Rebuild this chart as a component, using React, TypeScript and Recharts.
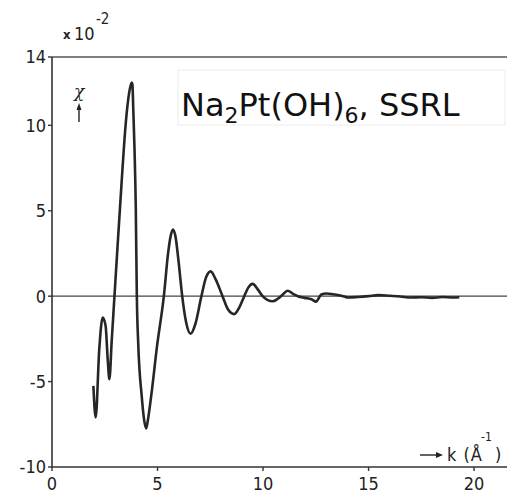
import { LineChart, Line, XAxis, YAxis, ReferenceLine } from 'recharts';

// k in 1/Å, chi in units of 10^-2
const kValues = [
  1.96, 2.07, 2.24, 2.4, 2.54, 2.64, 2.72, 2.83, 2.96, 3.07, 3.29, 3.48, 3.59, 3.7, 3.78, 3.81, 3.85,
  3.91, 3.97, 4.02, 4.09, 4.25, 4.36, 4.46, 4.55, 4.7, 4.98, 5.3, 5.5, 5.62, 5.73, 5.85, 6.0, 6.17,
  6.35, 6.57, 6.8, 7.08, 7.3, 7.52, 7.75, 8.08, 8.35, 8.63, 8.9, 9.11, 9.3, 9.51, 9.75, 9.98, 10.2,
  10.46, 10.7, 10.9, 11.17, 11.4, 11.65, 11.97, 12.29, 12.52, 12.6, 12.76, 13.0, 13.4, 13.8, 14.03,
  14.5, 15.0, 15.46, 16.0, 16.5, 17.0, 17.5, 18.0, 18.5, 19.0, 19.3,
];
const chiValues = [
  -5.25, -7.1, -3.1, -1.25, -1.74, -3.7, -4.86, -2.6, 0, 2.2, 6.5, 9.9, 11.3, 12.2, 12.5, 12.4,
  11.0, 8.6, 5.2, 0, -2.9, -5.84, -7.2, -7.75, -7.2, -5.84, -2.9, 0, 2.5, 3.5, 3.9, 3.5, 2.0, 0, -1.5,
  -2.2, -1.6, 0, 1.1, 1.45, 1.0, 0, -0.8, -1.05, -0.6, 0, 0.5, 0.72, 0.4, 0, -0.22, -0.3, -0.15, 0.05,
  0.32, 0.15, 0, -0.1, -0.18, -0.33, -0.2, 0.1, 0.16, 0.1, 0, -0.08, -0.05, 0, 0.06, 0.02, -0.02,
  -0.08, -0.06, -0.1, -0.05, -0.08, -0.06,
];
const xTicks = [0, 5, 10, 15, 20];
const yTicks = [-10, -5, 0, 5, 10, 14];

const data = kValues.map((k, i) => ({ k, chi: chiValues[i] }));

const tickFont = {
  fontFamily: '"Liberation Sans Narrow", "DejaVu Sans Condensed", sans-serif',
  fontSize: 18,
  fill: '#222',
};

export default function App() {
  return (
    <div style={{ position: 'absolute', left: 0, top: 0, width: 507, height: 497, background: '#fff', overflow: 'hidden' }}>
      <LineChart width={507} height={497} data={data} margin={{ top: 57, right: 0, bottom: 0, left: 0 }}>
        <XAxis
          dataKey="k"
          type="number"
          domain={[0, 21.56]}
          ticks={xTicks}
          allowDataOverflow
          height={30}
          tickSize={4}
          tickMargin={6}
          tick={tickFont}
          axisLine={{ stroke: '#333', strokeWidth: 1.6 }}
          tickLine={{ stroke: '#333', strokeWidth: 1.4 }}
        />
        <YAxis
          type="number"
          domain={[-10, 14]}
          ticks={yTicks}
          interval={0}
          width={52}
          tickSize={4}
          tickMargin={2}
          tick={tickFont}
          axisLine={{ stroke: '#333', strokeWidth: 1.6 }}
          tickLine={{ stroke: '#333', strokeWidth: 1.4 }}
        />
        <ReferenceLine y={14} stroke="#555" strokeWidth={1.5} />
        <ReferenceLine y={0} stroke="#444" strokeWidth={1.2} />
        <Line
          type="monotone"
          dataKey="chi"
          stroke="#262626"
          strokeWidth={2.6}
          dot={false}
          isAnimationActive={false}
        />
      </LineChart>
      <svg width={507} height={497} style={{ position: 'absolute', left: 0, top: 0, pointerEvents: 'none' }}>
        <g fontFamily='"Liberation Sans Narrow", "DejaVu Sans Condensed", sans-serif' fill="#222">
          <text x={63} y={39} fontSize={13} fontWeight="bold">x</text>
          <text x={74} y={40} fontSize={18}>10</text>
          <text x={96} y={24} fontSize={15}>-2</text>
          <text x={74} y={97} fontSize={17} fontStyle="italic" fontFamily="DejaVu Serif">χ</text>
          <line x1={79} y1={122} x2={79} y2={108} stroke="#222" strokeWidth={1.4} />
          <polygon points="79,103 76.5,110 81.5,110" />
          <line x1={420} y1={455} x2={437} y2={455} stroke="#222" strokeWidth={1.4} />
          <polygon points="443,455 436,452 436,458" />
          <text x={447} y={461} fontSize={18} letterSpacing={1}>k (Å</text>
          <text x={481} y={441} fontSize={12}>-1</text>
          <text x={495} y={461} fontSize={18}>)</text>
        </g>
        <rect x={178} y={70} width={327} height={55} fill="#fff" stroke="#ececec" />
        <text x={181} y={116} fontFamily="DejaVu Sans" fontSize={32} fill="#111">
          Na<tspan fontSize={22} dy={7}>2</tspan>
          <tspan dy={-7}>Pt(OH)</tspan>
          <tspan fontSize={22} dy={7}>6</tspan>
          <tspan dy={-7}>, SSRL</tspan>
        </text>
      </svg>
    </div>
  );
}
